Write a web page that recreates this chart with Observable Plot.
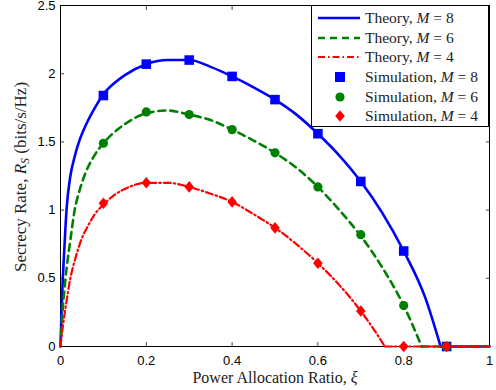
<!DOCTYPE html>
<html>
<head>
<meta charset="utf-8">
<script src="https://cdn.jsdelivr.net/npm/d3@7"></script>
<script src="https://cdn.jsdelivr.net/npm/@observablehq/plot@0.6"></script>
<style>
  html, body { margin: 0; padding: 0; background: #fff; }
  #wrap { position: relative; width: 496px; height: 390px; }
  #wrap svg { position: absolute; left: 0; top: 0; }
</style>
</head>
<body>
<div id="wrap"></div>
<script>
// ---------- data ----------
const xTicks = [0, 0.2, 0.4, 0.6, 0.8, 1];
const xTickLabels = ["0", "0.2", "0.4", "0.6", "0.8", "1"];
const yTicks = [0, 0.5, 1, 1.5, 2, 2.5];
const yTickLabels = ["0", "0.5", "1", "1.5", "2", "2.5"];

// Theory curves
const theoryXi8 = [0, 0.002, 0.0054, 0.009, 0.014, 0.023, 0.032, 0.043, 0.06, 0.08, 0.1, 0.125, 0.15, 0.2, 0.25, 0.3, 0.35, 0.4, 0.45, 0.5, 0.55, 0.6, 0.65, 0.7, 0.75, 0.8, 0.85, 0.886, 0.9, 1];
const theoryR8  = [0, 0.22, 0.5, 0.72, 1.0, 1.25, 1.38, 1.5, 1.63, 1.75, 1.85, 1.93, 1.99, 2.07, 2.10, 2.10, 2.05, 1.98, 1.90, 1.81, 1.70, 1.56, 1.40, 1.21, 0.98, 0.70, 0.36, 0, 0, 0];

const theoryXi6 = [0, 0.004, 0.0117, 0.023, 0.033, 0.045, 0.058, 0.077, 0.1, 0.125, 0.15, 0.2, 0.25, 0.3, 0.35, 0.4, 0.45, 0.5, 0.55, 0.6, 0.65, 0.7, 0.75, 0.8, 0.842, 0.9, 1];
const theoryR6  = [0, 0.22, 0.5, 0.78, 1.0, 1.15, 1.27, 1.39, 1.49, 1.57, 1.63, 1.71, 1.73, 1.70, 1.66, 1.59, 1.51, 1.42, 1.31, 1.17, 1.00, 0.81, 0.58, 0.30, 0, 0, 0];

const theoryXi4 = [0, 0.006, 0.012, 0.023, 0.035, 0.047, 0.065, 0.08, 0.1, 0.125, 0.15, 0.2, 0.25, 0.3, 0.35, 0.4, 0.45, 0.5, 0.55, 0.6, 0.65, 0.7, 0.75, 0.756, 0.8, 0.9, 1];
const theoryR4  = [0, 0.16, 0.29, 0.5, 0.65, 0.77, 0.89, 0.97, 1.04, 1.11, 1.155, 1.20, 1.20, 1.17, 1.12, 1.06, 0.97, 0.87, 0.75, 0.61, 0.45, 0.26, 0.03, 0, 0, 0, 0];

// Simulation points
const simXi = [0.1, 0.2, 0.3, 0.4, 0.5, 0.6, 0.7, 0.8, 0.9];
const simR8 = [1.84, 2.07, 2.10, 1.98, 1.81, 1.56, 1.21, 0.70, 0];
const simR6 = [1.49, 1.72, 1.70, 1.59, 1.42, 1.17, 0.82, 0.30, 0];
const simR4 = [1.05, 1.20, 1.17, 1.06, 0.87, 0.61, 0.26, 0, 0];

const legendLabels = ["Theory, ", "Theory, ", "Theory, ", "Simulation, ", "Simulation, ", "Simulation, "];
const legendM = ["8", "6", "4", "8", "6", "4"];

// ---------- build ----------
const BLUE = "#0000ff", GREEN = "#008000", RED = "#ff0000";
const toPts = (xs, ys) => xs.map((x, i) => ({x, y: ys[i]}));
// split a theory curve into its smooth positive part and the flat zero tail
function split(pts) {
  let k = 0;
  pts.forEach((p, i) => { if (p.y > 0) k = i; });
  return [pts.slice(0, k + 2), pts.slice(k + 1)];
}
const [th8, tail8] = split(toPts(theoryXi8, theoryR8));
const [th6, tail6] = split(toPts(theoryXi6, theoryR6));
const [th4, tail4] = split(toPts(theoryXi4, theoryR4));
const s8 = toPts(simXi, simR8), s6 = toPts(simXi, simR6), s4 = toPts(simXi, simR4);

const diamond = {
  draw(ctx, size) {
    const h = 5.8, w = 4.8;
    ctx.moveTo(0, -h); ctx.lineTo(w, 0); ctx.lineTo(0, h); ctx.lineTo(-w, 0); ctx.closePath();
  }
};

const SANS = "'Liberation Sans', Arial, sans-serif";
const SERIF = "'Liberation Serif', 'Times New Roman', serif";
const DASH = "7,5";
const DASHDOT = "7,3,1.5,3";

const chart = Plot.plot({
  width: 496,
  height: 390,
  marginLeft: 60,
  marginRight: 7,
  marginTop: 5,
  marginBottom: 44,
  style: {fontFamily: SANS, background: "white", color: "black"},
  x: {domain: [0, 1]},
  y: {domain: [0, 2.5]},
  marks: [
    Plot.axisX({ticks: xTicks, anchor: "bottom", tickSize: 0, tickPadding: 9, fontSize: 13,
      tickFormat: d => xTickLabels[xTicks.indexOf(d)], label: null}),
    Plot.axisY({ticks: yTicks, anchor: "left", tickSize: 0, tickPadding: 5, fontSize: 13,
      tickFormat: d => yTickLabels[yTicks.indexOf(d)], label: null}),
    Plot.axisX({ticks: xTicks, anchor: "bottom", tickSize: -4, tickFormat: () => "", label: null, stroke: "#444"}),
    Plot.axisX({ticks: xTicks, anchor: "top", tickSize: -4, tickFormat: () => "", label: null, stroke: "#444"}),
    Plot.axisY({ticks: yTicks, anchor: "left", tickSize: -4, tickFormat: () => "", label: null, stroke: "#444"}),
    Plot.axisY({ticks: yTicks, anchor: "right", tickSize: -4, tickFormat: () => "", label: null, stroke: "#444"}),
    Plot.frame({stroke: "black", strokeWidth: 1}),
    Plot.line(th8, {x: "x", y: "y", stroke: BLUE, strokeWidth: 2.6, curve: "monotone-x"}),
    Plot.line(tail8, {x: "x", y: "y", stroke: BLUE, strokeWidth: 2.6}),
    Plot.line(th6, {x: "x", y: "y", stroke: GREEN, strokeWidth: 2.6, strokeDasharray: DASH, curve: "monotone-x"}),
    Plot.line(tail6, {x: "x", y: "y", stroke: GREEN, strokeWidth: 2.6, strokeDasharray: DASH}),
    Plot.line(th4, {x: "x", y: "y", stroke: RED, strokeWidth: 2.2, strokeDasharray: DASHDOT, curve: "monotone-x"}),
    Plot.line(tail4, {x: "x", y: "y", stroke: RED, strokeWidth: 2.2, strokeDasharray: DASHDOT}),
    Plot.dot(s8, {x: "x", y: "y", symbol: "square", r: 5.4, fill: BLUE, stroke: "none"}),
    Plot.dot(s6, {x: "x", y: "y", symbol: "circle", r: 4.6, fill: GREEN, stroke: "none"}),
    Plot.dot(s4, {x: "x", y: "y", symbol: diamond, r: 5, fill: RED, stroke: "none"})
  ]
});

const wrap = document.getElementById("wrap");
wrap.appendChild(chart);

const svg = d3.select(chart);

// Axis labels
const xl = svg.append("text")
  .attr("x", 275).attr("y", 383)
  .attr("text-anchor", "middle")
  .attr("font-family", SERIF).attr("font-size", 16).attr("fill", "#222");
xl.append("tspan").text("Power Allocation Ratio, ");
xl.append("tspan").attr("font-style", "italic").text("ξ");

const yl = svg.append("text")
  .attr("transform", "translate(26,177) rotate(-90)")
  .attr("text-anchor", "middle")
  .attr("font-family", SERIF).attr("font-size", 17).attr("fill", "#222");
yl.append("tspan").text("Secrecy Rate, ");
yl.append("tspan").attr("font-style", "italic").text("R");
yl.append("tspan").attr("font-style", "italic").attr("font-size", 12).attr("dy", 3).text("S");
yl.append("tspan").attr("dy", -3).text(" (bits/s/Hz)");

// Legend
const lg = svg.append("g");
lg.append("rect").attr("x", 311.5).attr("y", 5.5).attr("width", 177).attr("height", 121)
  .attr("fill", "white").attr("stroke", "black").attr("stroke-width", 1);
const rowY = [18, 38, 57, 77, 97, 116];
const lineStyles = [
  {stroke: BLUE, w: 2.6, dash: null},
  {stroke: GREEN, w: 2.6, dash: DASH},
  {stroke: RED, w: 2.2, dash: DASHDOT}
];
lineStyles.forEach((s, i) => {
  const ln = lg.append("line").attr("x1", 318).attr("x2", 360).attr("y1", rowY[i]).attr("y2", rowY[i])
    .attr("stroke", s.stroke).attr("stroke-width", s.w);
  if (s.dash) ln.attr("stroke-dasharray", s.dash);
});
lg.append("rect").attr("x", 335).attr("y", rowY[3] - 5).attr("width", 10).attr("height", 10).attr("fill", BLUE);
lg.append("circle").attr("cx", 340).attr("cy", rowY[4]).attr("r", 4.6).attr("fill", GREEN);
lg.append("path").attr("d", `M340,${rowY[5]-5.8}L344.8,${rowY[5]}L340,${rowY[5]+5.8}L335.2,${rowY[5]}Z`).attr("fill", RED);
legendLabels.forEach((lab, i) => {
  const t = lg.append("text").attr("x", 365).attr("y", rowY[i] + 5)
    .attr("text-anchor", "start")
    .attr("font-family", SERIF).attr("font-size", 15.5).attr("fill", "#222");
  t.append("tspan").text(lab);
  t.append("tspan").attr("font-style", "italic").text("M");
  t.append("tspan").text(" = " + legendM[i]);
});
</script>
</body>
</html>
